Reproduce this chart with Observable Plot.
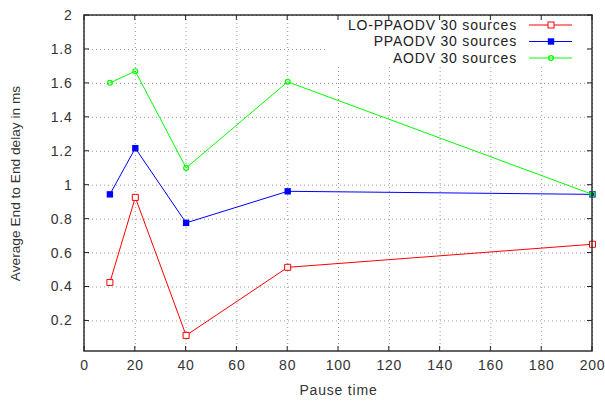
<!DOCTYPE html>
<html>
<head>
<meta charset="utf-8">
<script src="https://cdn.jsdelivr.net/npm/d3@7"></script>
<script src="https://cdn.jsdelivr.net/npm/@observablehq/plot@0.6"></script>
<style>
  html, body { margin: 0; padding: 0; background: #fff; }
  #chart svg { display: block; }
  #chart svg text { letter-spacing: 0.8px; }
  #chart svg g[aria-label="y-axis label"] text { letter-spacing: 0; font-size: 13.7px; }
</style>
</head>
<body>
<div id="chart"></div>
<script>
// Pause time (s) on the x axis
const pauseTimes = [10, 20, 40, 80, 200];

// Average end-to-end delay (ms) per protocol
const loPpaodv = [0.427, 0.928, 0.115, 0.516, 0.652];
const ppaodv   = [0.946, 1.218, 0.778, 0.964, 0.946];
const aodv     = [1.603, 1.672, 1.102, 1.609, 0.946];

const seriesNames = ["LO-PPAODV 30 sources", "PPAODV 30 sources", "AODV 30 sources"];
const seriesColors = ["#ff0000", "#0000ff", "#00ff00"];

const xTicks = [0, 20, 40, 60, 80, 100, 120, 140, 160, 180, 200];
const yTicks = [0.2, 0.4, 0.6, 0.8, 1, 1.2, 1.4, 1.6, 1.8, 2];

const rows = [loPpaodv, ppaodv, aodv].flatMap((vals, i) =>
  vals.map((v, j) => ({series: seriesNames[i], pause: pauseTimes[j], delay: v}))
);
const bySeries = name => rows.filter(d => d.series === name);

const font = "'Liberation Sans', Arial, sans-serif";
const fmt = d => String(+d.toFixed(1));

const chart = Plot.plot({
  width: 605,
  height: 401,
  marginLeft: 84,
  marginRight: 13,
  marginTop: 15,
  marginBottom: 50,
  style: {fontFamily: font, fontSize: "14px", color: "#333", background: "#fff"},
  x: {domain: [0, 200]},
  y: {domain: [0.02, 2]},
  marks: [
    Plot.gridX(xTicks, {stroke: "#999", strokeOpacity: 1, strokeDasharray: "1,3"}),
    Plot.gridY(yTicks, {stroke: "#999", strokeOpacity: 1, strokeDasharray: "1,3"}),

    // tick labels and titles
    Plot.axisX(xTicks, {tickSize: 0, tickPadding: 9, fill: "#333", label: "Pause time",
      labelAnchor: "center", labelArrow: "none", labelOffset: 43}),
    Plot.axisY(yTicks, {tickSize: 0, tickPadding: 12, tickFormat: fmt, fill: "#333",
      label: "Average End to End delay in ms", labelAnchor: "center", labelArrow: "none", labelOffset: 74}),

    // series lines and markers
    Plot.line(bySeries(seriesNames[0]), {x: "pause", y: "delay", stroke: seriesColors[0], strokeWidth: 1}),
    Plot.dot(bySeries(seriesNames[0]), {x: "pause", y: "delay", symbol: "square", r: 3.4, stroke: seriesColors[0], fill: "#fff", strokeWidth: 1}),
    Plot.line(bySeries(seriesNames[1]), {x: "pause", y: "delay", stroke: seriesColors[1], strokeWidth: 1}),
    Plot.dot(bySeries(seriesNames[1]), {x: "pause", y: "delay", symbol: "square", r: 3.6, fill: seriesColors[1], stroke: "none"}),
    Plot.line(bySeries(seriesNames[2]), {x: "pause", y: "delay", stroke: seriesColors[2], strokeWidth: 1}),
    Plot.dot(bySeries(seriesNames[2]), {x: "pause", y: "delay", symbol: "circle", r: 2.4, stroke: seriesColors[2], fill: "none", strokeWidth: 1.2}),
  ]
});

document.getElementById("chart").appendChild(chart);

// Key box in the upper right corner, then frame and inward ticks on top
const svg = d3.select(chart);
const key = svg.append("g").attr("font-family", font).attr("font-size", 14);
key.append("rect").attr("x", 328).attr("y", 16).attr("width", 258).attr("height", 50).attr("fill", "#fff");
seriesNames.forEach((name, i) => {
  const y = 25 + i * 16.5;
  key.append("text").attr("x", 517).attr("y", y).attr("dy", "0.35em")
    .attr("text-anchor", "end").attr("fill", "#222").text(name);
  key.append("line").attr("x1", 529).attr("x2", 572).attr("y1", y).attr("y2", y)
    .attr("stroke", seriesColors[i]).attr("stroke-width", 1);
  if (i === 0) key.append("rect").attr("x", 548).attr("y", y - 3).attr("width", 6).attr("height", 6)
    .attr("fill", "#fff").attr("stroke", seriesColors[i]);
  if (i === 1) key.append("rect").attr("x", 547.8).attr("y", y - 3.2).attr("width", 6.4).attr("height", 6.4)
    .attr("fill", seriesColors[i]);
  if (i === 2) key.append("circle").attr("cx", 551).attr("cy", y).attr("r", 2.4)
    .attr("fill", "none").attr("stroke", seriesColors[i]).attr("stroke-width", 1.2);
});

const x = chart.scale("x"), y = chart.scale("y");
const [x0, x1] = x.range, [y0, y1] = y.range;
const frame = svg.append("g").attr("stroke", "#222").attr("fill", "none");
frame.append("rect").attr("x", x0).attr("y", y1).attr("width", x1 - x0).attr("height", y0 - y1)
  .attr("stroke-width", 1.4);
xTicks.forEach(t => {
  const px = x.apply(t);
  frame.append("line").attr("x1", px).attr("x2", px).attr("y1", y0).attr("y2", y0 - 5);
  frame.append("line").attr("x1", px).attr("x2", px).attr("y1", y1).attr("y2", y1 + 5);
});
yTicks.forEach(t => {
  const py = y.apply(t);
  frame.append("line").attr("x1", x0).attr("x2", x0 + 5).attr("y1", py).attr("y2", py);
  frame.append("line").attr("x1", x1).attr("x2", x1 - 5).attr("y1", py).attr("y2", py);
});
</script>
</body>
</html>
